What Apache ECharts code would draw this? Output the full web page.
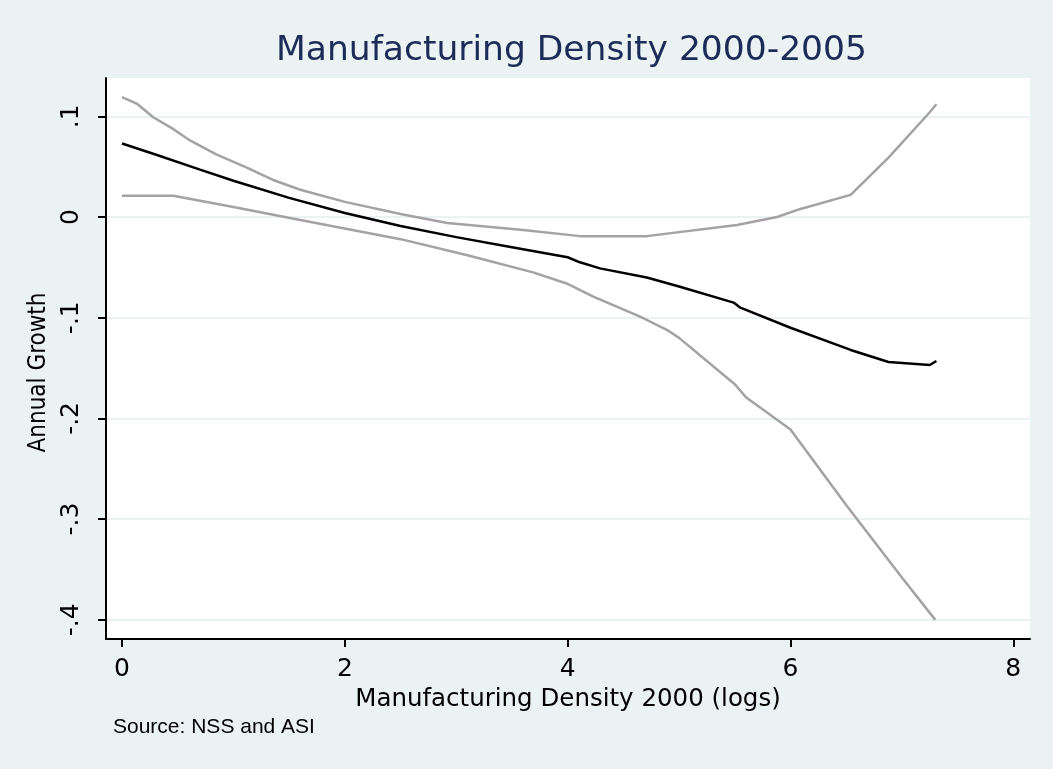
<!DOCTYPE html>
<html>
<head>
<meta charset="utf-8">
<script src="https://cdn.jsdelivr.net/npm/echarts@6/dist/echarts.min.js"></script>
<style>
html, body { margin: 0; padding: 0; background: #eaf2f3; }
#chart { width: 1053px; height: 769px; }
</style>
</head>
<body>
<div id="chart"></div>
<script>
// log manufacturing density 2000
var xFit = [0, 0.3, 0.7, 1.0, 1.5, 2.0, 2.5, 3.0, 3.5, 4.0, 4.11, 4.29, 4.71, 5.0, 5.49, 5.55, 6.0, 6.54, 6.88, 7.25, 7.31];
// fitted annual growth
var yFit = [0.073, 0.062, 0.047, 0.036, 0.019, 0.004, -0.009, -0.020, -0.030, -0.040, -0.045, -0.051, -0.060, -0.069, -0.085, -0.090, -0.110, -0.132, -0.144, -0.147, -0.143];
// upper confidence band
var xUp = [0, 0.14, 0.28, 0.45, 0.61, 0.85, 1.12, 1.35, 1.6, 2.0, 2.5, 2.92, 3.6, 4.11, 4.71, 5.52, 5.88, 6.09, 6.54, 6.88, 7.25, 7.31];
var yUp = [0.119, 0.112, 0.099, 0.088, 0.076, 0.062, 0.049, 0.037, 0.027, 0.015, 0.003, -0.006, -0.013, -0.019, -0.019, -0.008, 0.000, 0.008, 0.022, 0.059, 0.104, 0.112];
// lower confidence band
var xLo = [0, 0.46, 1.0, 1.6, 2.5, 3.1, 3.69, 3.99, 4.23, 4.65, 4.89, 5.0, 5.5, 5.6, 6.0, 6.5, 7.0, 7.3];
var yLo = [0.021, 0.021, 0.010, -0.003, -0.022, -0.038, -0.055, -0.066, -0.079, -0.099, -0.112, -0.120, -0.166, -0.179, -0.211, -0.286, -0.358, -0.400];

var xTicks = [0, 2, 4, 6, 8];
var yTicks = [-0.4, -0.3, -0.2, -0.1, 0, 0.1];

function pairs(xs, ys) {
    return xs.map(function (x, i) { return [x, ys[i]]; });
}
function yFmt(v) {
    var s = (Math.round(v * 10) / 10).toString();
    return s.replace('0.', '.');
}

var font = 'DejaVu Sans';
var chart = echarts.init(document.getElementById('chart'));
var option = {
    backgroundColor: '#eaf2f3',
    animation: false,
    title: {
        text: 'Manufacturing Density 2000-2005',
        left: 271,
        top: 29,
        textStyle: { fontFamily: font, fontWeight: 'normal', fontSize: 34.5, color: '#1c2b57' }
    },
    graphic: [{
        type: 'text',
        left: 113,
        top: 717,
        style: { text: 'Source: NSS and ASI', font: '21px "Liberation Sans"', fill: '#000' }
    }],
    grid: { left: 106, right: 23, top: 78, bottom: 130, show: true, backgroundColor: '#fff', borderWidth: 0 },
    xAxis: {
        type: 'value',
        min: -0.144,
        max: 8.15,
        name: 'Manufacturing Density 2000 (logs)',
        nameLocation: 'middle',
        nameGap: 40,
        nameTextStyle: { fontFamily: font, fontSize: 24.5, color: '#000' },
        axisLine: { show: true, onZero: false, lineStyle: { color: '#000', width: 2 } },
        axisTick: { show: true, length: 8, lineStyle: { color: '#000', width: 2 }, customValues: xTicks },
        axisLabel: { fontFamily: font, fontSize: 25, color: '#000', margin: 18, customValues: xTicks },
        splitLine: { show: false }
    },
    yAxis: {
        type: 'value',
        min: -0.419,
        max: 0.138,
        name: 'Annual Growth',
        nameLocation: 'middle',
        nameGap: 48,
        nameTextStyle: { fontFamily: 'DejaVu Sans Condensed', fontSize: 24, color: '#000', padding: [0, 0, 0, -28] },
        axisLine: { show: true, onZero: false, lineStyle: { color: '#000', width: 2 } },
        axisTick: { show: true, length: 8, lineStyle: { color: '#000', width: 2 }, customValues: yTicks },
        axisLabel: { fontFamily: font, fontSize: 25, color: '#000', margin: 22, rotate: 90, formatter: yFmt, customValues: yTicks },
        splitLine: { show: true, lineStyle: { color: '#eaf2f3', width: 2 } }
    },
    series: [{
        type: 'line',
        data: pairs(xUp, yUp),
        showSymbol: false,
        lineStyle: { color: '#a3a3a3', width: 2.5 }
    }, {
        type: 'line',
        data: pairs(xLo, yLo),
        showSymbol: false,
        lineStyle: { color: '#a3a3a3', width: 2.5 }
    }, {
        type: 'line',
        data: pairs(xFit, yFit),
        showSymbol: false,
        lineStyle: { color: '#000', width: 2.5 }
    }]
};
chart.setOption(option);
</script>
</body>
</html>
